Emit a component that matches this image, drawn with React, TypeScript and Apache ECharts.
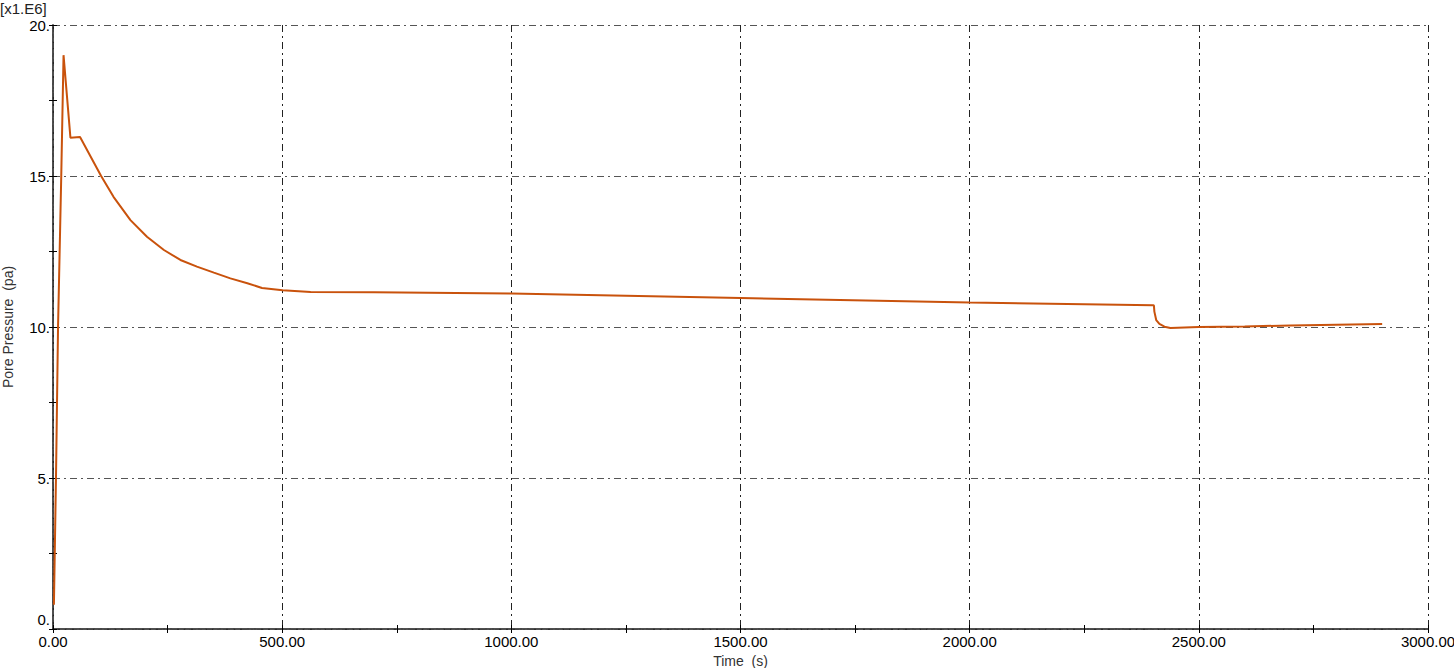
import { useEffect, useRef } from "react";
import * as echarts from "echarts";

// time (s) and pore pressure (x1.E6 pa)
const timeValues = [
  2, 6.5, 11, 18, 23, 38, 59, 105, 132, 169, 205, 242, 278, 314, 351, 387, 424,
  456, 501, 562, 700, 1000, 1500, 2000, 2400, 2402, 2403, 2407, 2414, 2425,
  2438, 2500, 2600, 2700, 2900,
];
const pressureValues = [
  0.8, 5, 10, 15, 19.0, 16.27, 16.29, 15.0, 14.31, 13.54, 12.99, 12.55, 12.22,
  12.0, 11.8, 11.61, 11.45, 11.29, 11.22, 11.16, 11.15, 11.11, 10.96, 10.81,
  10.72, 10.71, 10.51, 10.23, 10.1, 10.01, 9.97, 10.0, 10.02, 10.05, 10.1,
];

const X_MIN = 0;
const X_MAX = 3000;
const X_STEP = 500;
const X_MINOR = 250;
const Y_MIN = 0;
const Y_MAX = 20;
const Y_STEP = 5;
const Y_MINOR = 2.5;

const FONT = "Liberation Sans, Arial, sans-serif";
const LINE_COLOR = "#C9520C";
const GRID_DASH = [7, 4, 2, 4];

export default function App() {
  const containerRef = useRef<HTMLDivElement>(null);

  useEffect(() => {
    if (!containerRef.current) return;
    const chart = echarts.init(containerRef.current, undefined, { renderer: "svg" });

    const tickLabel = { color: "#000", fontFamily: FONT, fontSize: 15 };
    const nameStyle = { color: "#333", fontFamily: FONT, fontSize: 14 };
    const tick = { show: true, inside: true, length: 4, lineStyle: { color: "#000" } };
    const hiddenLine = { show: false };
    const borderLine = { show: true, lineStyle: { color: "#555", type: [5, 2], width: 1.5 } };

    // extra axes that only carry the inner minor ticks
    const tickOnlyX = (position: string) => ({
      type: "value",
      position,
      min: X_MIN,
      max: X_MAX,
      interval: X_MINOR,
      axisLine: position === "top" ? borderLine : hiddenLine,
      axisTick: tick,
      axisLabel: { show: false },
      splitLine: { show: false },
    });
    const tickOnlyY = (position: string) => ({
      type: "value",
      position,
      min: Y_MIN,
      max: Y_MAX,
      interval: Y_MINOR,
      axisLine: position === "right" ? borderLine : hiddenLine,
      axisTick: tick,
      axisLabel: { show: false },
      splitLine: { show: false },
    });

    chart.setOption({
      animation: false,
      textStyle: { fontFamily: FONT },
      grid: { left: 53, right: 26, top: 25, bottom: 39, outerBoundsMode: "none" },
      graphic: [
        {
          type: "text",
          left: 0,
          top: 1,
          style: { text: "[x1.E6]", fontFamily: FONT, fontSize: 15, fill: "#222" },
        },
      ],
      xAxis: [
        {
          type: "value",
          min: X_MIN,
          max: X_MAX,
          interval: X_STEP,
          name: "Time  (s)",
          nameLocation: "middle",
          nameGap: 17,
          nameTextStyle: nameStyle,
          axisLine: { show: true, onZero: false, lineStyle: { color: "#000", width: 1.5 } },
          axisTick: { show: false },
          axisLabel: { ...tickLabel, margin: 5, formatter: (v: number) => v.toFixed(2) },
          splitLine: { show: true, lineStyle: { color: "#222", type: GRID_DASH, width: 1 } },
        },
        tickOnlyX("top"),
        tickOnlyX("bottom"),
      ],
      yAxis: [
        {
          type: "value",
          min: Y_MIN,
          max: Y_MAX,
          interval: Y_STEP,
          name: "Pore Pressure  (pa)",
          nameLocation: "middle",
          nameGap: 38,
          nameTextStyle: nameStyle,
          axisLine: { show: true, onZero: false, lineStyle: { color: "#000", width: 1.5 } },
          axisTick: { show: false },
          axisLabel: {
            ...tickLabel,
            margin: 3,
            showMinLabel: false,
            formatter: (v: number) => `${v}.`,
          },
          splitLine: { show: true, lineStyle: { color: "#555", type: GRID_DASH, width: 1 } },
        },
        tickOnlyY("right"),
        tickOnlyY("left"),
      ],
      series: [
        {
          type: "line",
          xAxisIndex: 0,
          yAxisIndex: 0,
          data: timeValues.map((t, i) => [t, pressureValues[i]]),
          showSymbol: false,
          smooth: false,
          lineStyle: { color: LINE_COLOR, width: 2 },
          itemStyle: { color: LINE_COLOR },
        },
      ],
    });

    // the "0." label sits a little above its tick, clear of "0.00"
    const origin = chart.convertToPixel({ gridIndex: 0 }, [X_MIN, Y_MIN]) as number[];
    chart.setOption({
      graphic: [
        {
          type: "text",
          left: 0,
          top: 1,
          style: { text: "[x1.E6]", fontFamily: FONT, fontSize: 15, fill: "#222" },
        },
        {
          type: "text",
          x: origin[0] - 3,
          y: origin[1] - 2,
          style: {
            text: `${Y_MIN}.`,
            fontFamily: FONT,
            fontSize: 15,
            fill: "#000",
            align: "right",
            verticalAlign: "bottom",
          },
        },
      ],
    });

    return () => chart.dispose();
  }, []);

  return (
    <div
      ref={containerRef}
      style={{ position: "absolute", left: 0, top: 0, width: 1454, height: 668, background: "#fff" }}
    />
  );
}
